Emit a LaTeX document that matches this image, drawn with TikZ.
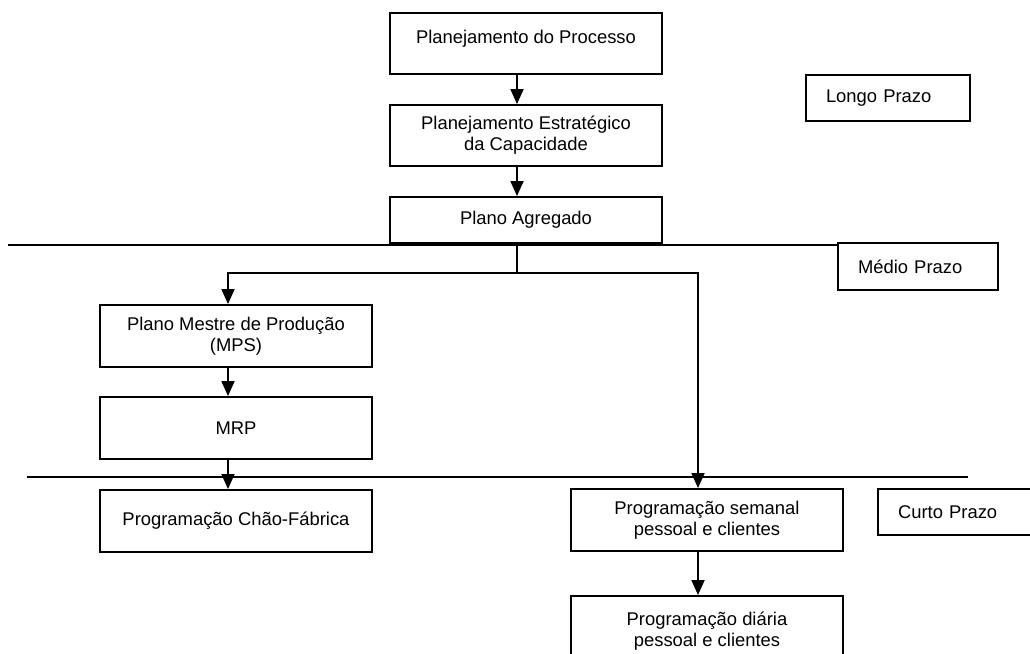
\documentclass[tikz,border=0pt]{standalone}
\usepackage{fontspec}
\setmainfont{Liberation Sans}
\usetikzlibrary{arrows.meta}
\begin{document}
\begin{tikzpicture}[x=1pt,y=-1pt,
  font=\fontsize{18.4}{21}\selectfont,
  box/.style={draw, line width=1.9pt, minimum width=272, align=center, inner sep=0pt},
  side/.style={draw, line width=1.9pt, minimum height=46, inner xsep=20pt, inner ysep=0pt, align=left},
  rule/.style={line width=1.8pt},
  arr/.style={line width=1.8pt, -{Triangle[length=15pt,width=13pt]}},
  link/.style={line width=1.8pt}]
\useasboundingbox (0,0) rectangle (1030,653);

% main chain
\node[box, minimum height=61] (proc) at (526,43.5) {\raisebox{13pt}{Planejamento do Processo}};
\node[box, minimum height=61] (cap) at (526,135.5) {Planejamento Estratégico\\da Capacidade};
\node[box, minimum height=46] (agg) at (526,220) {Plano Agregado};

% horizon labels
\node[side, text width=124] (longo) at (888,98) {Longo Prazo};
\node[side, text width=120, minimum height=47] (medio) at (918,266.5) {Médio Prazo};
\node[side, text width=120] (curto) at (958,512) {Curto Prazo};

% left column
\node[box, minimum height=62] (mps) at (236,336) {Plano Mestre de Produção\\(MPS)};
\node[box, minimum height=62] (mrp) at (236,428) {MRP};
\node[box, minimum height=62] (chao) at (236,521) {Programação Chão-Fábrica};

% right column
\node[box, minimum height=62] (sem) at (707,520) {Programação semanal\\pessoal e clientes};
\node[box, minimum height=70] (dia) at (707,631) {Programação diária\\pessoal e clientes};

% horizon dividers
\coordinate (midstart) at (8,245);
\coordinate (shortstart) at (27,477);
\coordinate (shortend) at (968,477);
\draw[rule] (midstart) -- (midstart -| medio.west);
\draw[rule] (shortstart) -- (shortend);

% connectors
\draw[arr] ([xshift=-9pt]proc.south) -- ([xshift=-9pt]cap.north);
\draw[arr] ([xshift=-9pt]cap.south) -- ([xshift=-9pt]agg.north);
\coordinate (split) at (517,273);
\draw[link] ([xshift=-9pt]agg.south) -- (split);
\draw[arr] (split) -| ([xshift=-8pt]mps.north);
\draw[arr] (split) -| ([xshift=-9pt]sem.north);
\draw[arr] ([xshift=-8pt]mps.south) -- ([xshift=-8pt]mrp.north);
\draw[arr] ([xshift=-8pt]mrp.south) -- ([xshift=-8pt]chao.north);
\draw[arr] ([xshift=-9pt]sem.south) -- ([xshift=-9pt]dia.north);
\end{tikzpicture}
\end{document}
